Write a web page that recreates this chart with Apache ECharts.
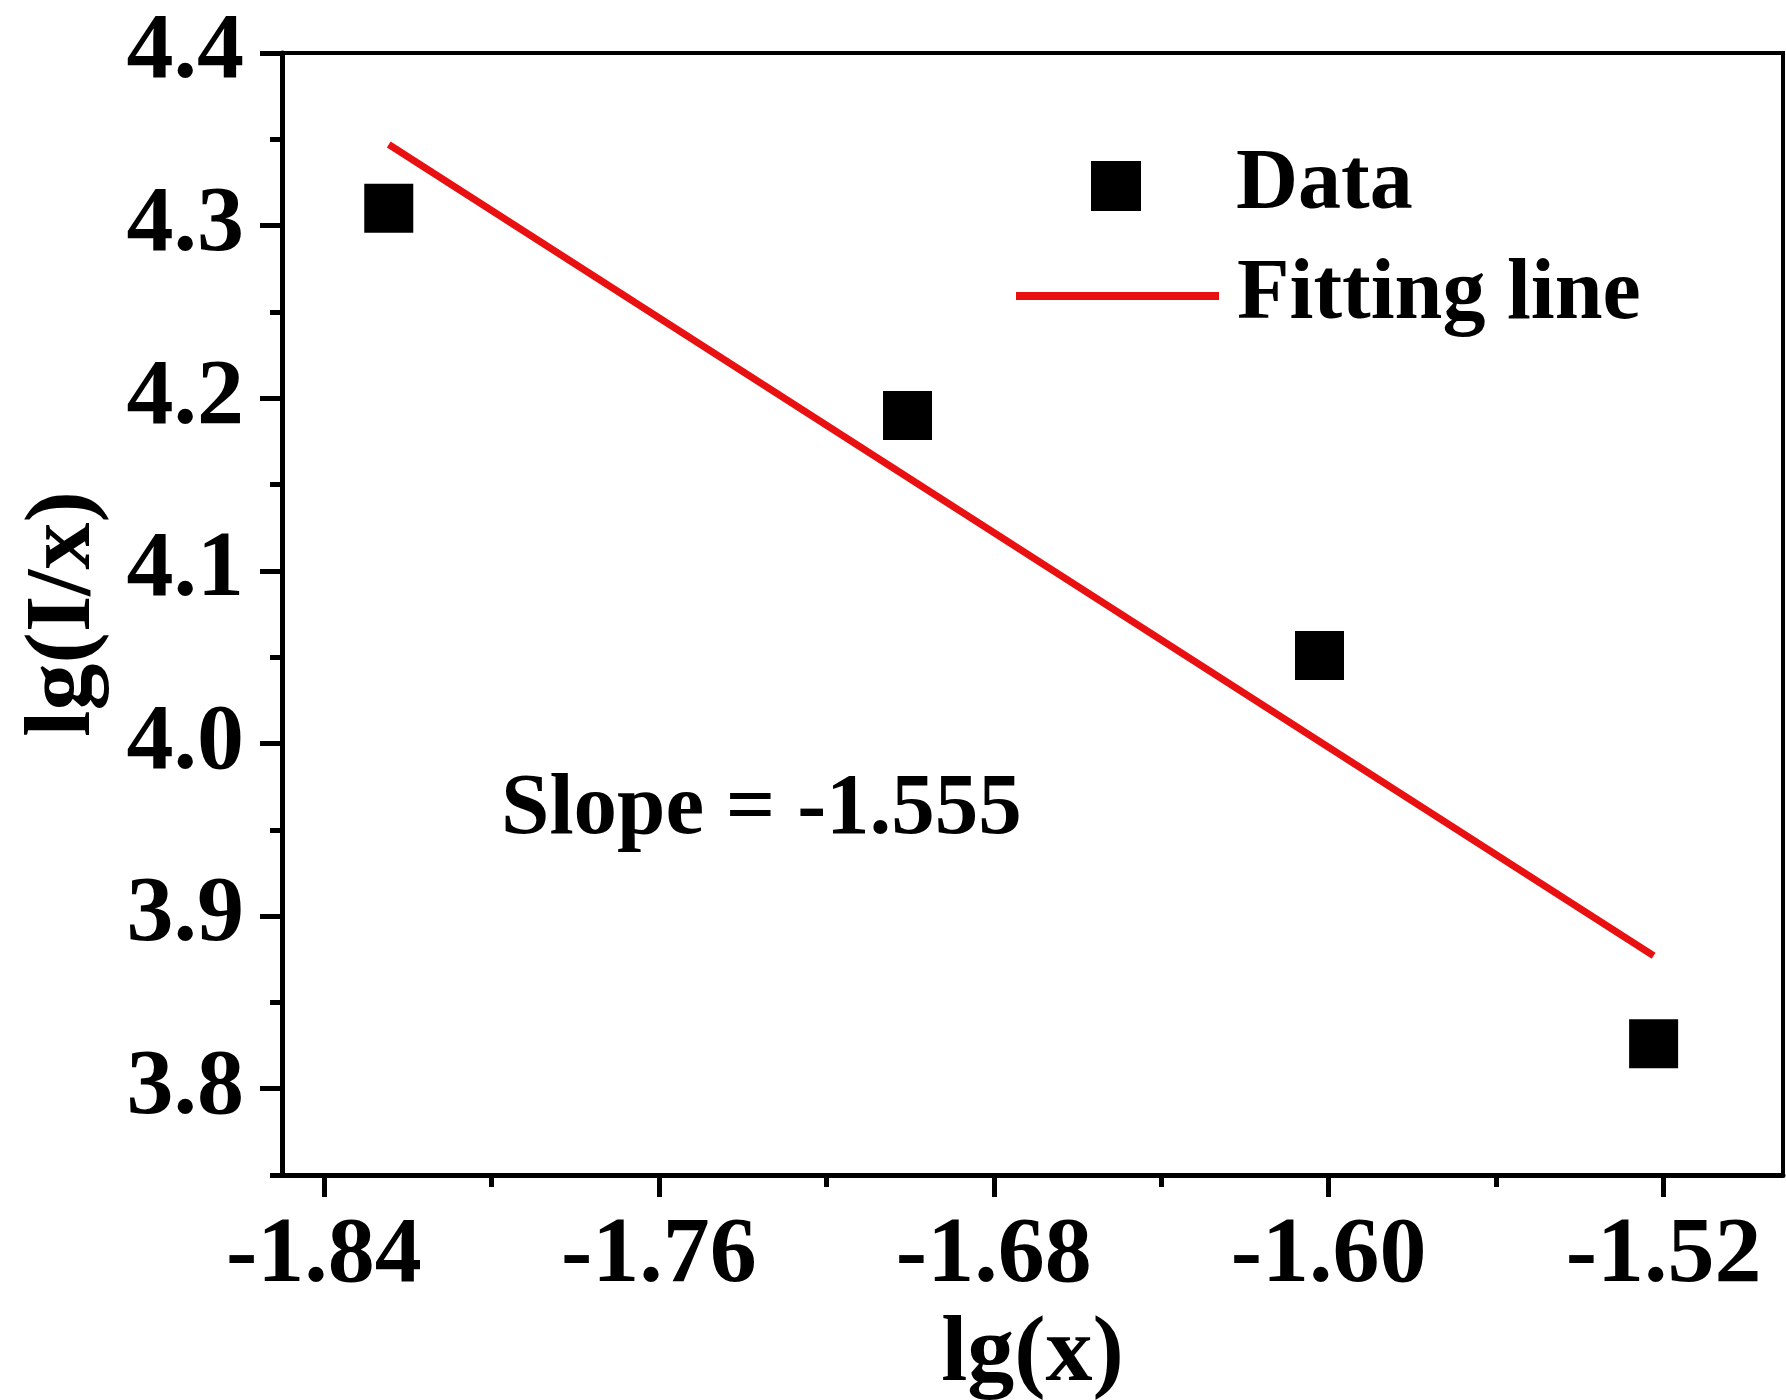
<!DOCTYPE html>
<html>
<head>
<meta charset="utf-8">
<script src="https://cdn.jsdelivr.net/npm/echarts@6/dist/echarts.min.js"></script>
<style>
  html, body { margin: 0; padding: 0; background: #fff; }
  #chart { width: 1786px; height: 1400px; }
</style>
</head>
<body>
<div id="chart"></div>
<script>
// Measured points: lg(x) against lg(I/x)
const dataX = [-1.8245, -1.7006, -1.6022, -1.5224];
const dataY = [4.310, 4.190, 4.051, 3.826];

// Linear fit, drawn between the first and last measured lg(x)
const fitX = [-1.8245, -1.5224];
const fitY = [4.347, 3.877];
const slopeText = 'Slope = -1.555';

// Axis ticks
const xMajorTicks = [-1.84, -1.76, -1.68, -1.60, -1.52];
const xMinorTicks = [-1.80, -1.72, -1.64, -1.56];
const yMajorTicks = [3.8, 3.9, 4.0, 4.1, 4.2, 4.3, 4.4];
const yMinorTicks = [3.75, 3.85, 3.95, 4.05, 4.15, 4.25, 4.35];

const FONT = '"Liberation Serif", "Times New Roman", serif';
const RED = '#e81010';

const chart = echarts.init(document.getElementById('chart'), null, { renderer: 'canvas' });

const axisLineStyle = { color: '#000', width: 5 };

function baseX(extra) {
  return Object.assign({
    type: 'value', min: -1.85, max: -1.4915, position: 'bottom',
    splitLine: { show: false },
    axisLine: { show: true, lineStyle: axisLineStyle }
  }, extra);
}
function baseY(extra) {
  return Object.assign({
    type: 'value', min: 3.75, max: 4.4, position: 'left',
    splitLine: { show: false },
    axisLine: { show: true, lineStyle: axisLineStyle }
  }, extra);
}

chart.setOption({
  animation: false,
  backgroundColor: '#fff',
  grid: {
    left: 282, top: 53, right: 3, bottom: 225,
    outerBoundsMode: 'none', containLabel: false,
    show: true, borderColor: '#000', borderWidth: 4, backgroundColor: 'transparent'
  },
  xAxis: [
    baseX({
      name: 'lg(x)', nameLocation: 'middle', nameGap: 116,
      nameTextStyle: { fontFamily: FONT, fontWeight: 'bold', fontSize: 94, color: '#000' },
      axisTick: { show: true, inside: false, length: 22, customValues: xMajorTicks,
                  lineStyle: { color: '#000', width: 5 } },
      axisLabel: { show: true, margin: 35, customValues: xMajorTicks,
                   formatter: v => v.toFixed(2),
                   fontFamily: FONT, fontWeight: 'bold', fontSize: 94, color: '#000' }
    }),
    baseX({
      axisLine: { show: false },
      axisTick: { show: true, inside: false, length: 12, customValues: xMinorTicks,
                  lineStyle: { color: '#000', width: 5 } },
      axisLabel: { show: false }
    })
  ],
  yAxis: [
    baseY({
      name: 'lg(I/x)', nameLocation: 'middle', nameGap: 170, nameRotate: 90,
      nameTextStyle: { fontFamily: FONT, fontWeight: 'bold', fontSize: 94, color: '#000' },
      axisTick: { show: true, inside: false, length: 22, customValues: yMajorTicks,
                  lineStyle: { color: '#000', width: 5 } },
      axisLabel: { show: true, margin: 38, customValues: yMajorTicks,
                   formatter: v => v.toFixed(1),
                   fontFamily: FONT, fontWeight: 'bold', fontSize: 94, color: '#000' }
    }),
    baseY({
      axisLine: { show: false },
      axisTick: { show: true, inside: false, length: 12, customValues: yMinorTicks,
                  lineStyle: { color: '#000', width: 5 } },
      axisLabel: { show: false }
    })
  ],
  legend: [
    {
      data: [{ name: 'Data', icon: 'rect', itemStyle: { color: '#000', opacity: 1 } }],
      orient: 'vertical', left: 1091, top: 143, padding: 0,
      itemWidth: 50, itemHeight: 50,
      textStyle: { fontFamily: FONT, fontWeight: 'bold', fontSize: 86, color: '#000',
                   padding: [0, 0, 0, 90] },
      selectedMode: false
    },
    {
      data: [{ name: 'Fitting line', icon: 'rect' }],
      orient: 'vertical', left: 1016, top: 253, padding: 0,
      itemWidth: 203, itemHeight: 8,
      textStyle: { fontFamily: FONT, fontWeight: 'bold', fontSize: 86, color: '#000',
                   padding: [0, 0, 0, 13] },
      selectedMode: false
    }
  ],
  graphic: [
    {
      type: 'text', left: 501, top: 767,
      style: { text: slopeText, fontFamily: FONT, fontWeight: 'bold', fontSize: 87, fill: '#000' }
    }
  ],
  series: [
    {
      name: 'Fitting line', type: 'line',
      xAxisIndex: 0, yAxisIndex: 0,
      data: fitX.map((x, i) => [x, fitY[i]]),
      symbol: 'none',
      lineStyle: { color: RED, width: 7 },
      itemStyle: { color: RED },
      z: 2
    },
    {
      name: 'Data', type: 'scatter',
      xAxisIndex: 0, yAxisIndex: 0,
      data: dataX.map((x, i) => [x, dataY[i]]),
      symbol: 'rect', symbolSize: 49,
      itemStyle: { color: '#000', opacity: 1 },
      z: 3
    }
  ]
});
</script>
</body>
</html>
